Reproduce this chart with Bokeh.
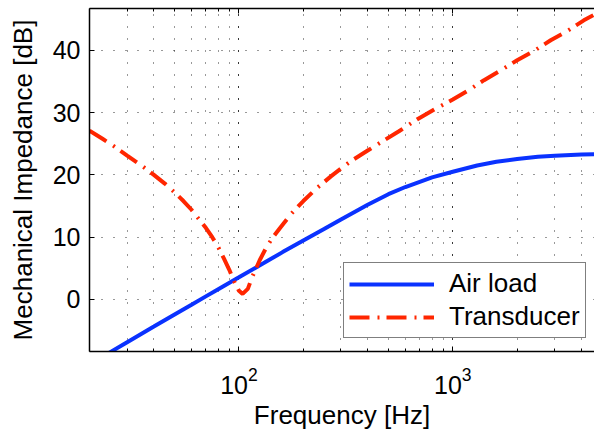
from bokeh.plotting import figure
from bokeh.models import (LogAxis, LogTicker, FixedTicker, Legend, LegendItem,
                          Range1d, ColumnDataSource, Title)
from bokeh.embed import file_html
from bokeh.resources import INLINE

# ---- data ----
freq_air = [20, 25, 30, 40, 50, 60, 70, 80, 100, 130, 160, 200, 250, 300, 400,
            500, 600, 800, 1000, 1300, 1600, 2000, 2500, 3000, 4000, 5000]
air_load = [-10.4, -8.45, -6.85, -4.35, -2.4, -0.85, 0.5, 1.65, 3.55, 5.8, 7.6,
            9.45, 11.3, 12.85, 15.2, 16.9, 18.05, 19.6, 20.5, 21.5, 22.1, 22.55,
            22.9, 23.05, 23.25, 23.35]

freq_tr = [20, 23, 26, 30, 35, 40, 45, 50, 55, 60, 65, 70, 75, 80, 85, 90, 95,
           100, 104, 110, 116, 125, 135, 145, 155, 175, 200, 230, 270, 330, 400,
           460, 560, 680, 820, 1000, 1200, 1400, 1700, 2000, 2400, 2870, 3400,
           4100, 5000]
transducer = [27.1, 25.8, 24.6, 23.1, 21.5, 20.0, 18.6, 17.2, 15.8, 14.4, 12.9,
              11.5, 10.0, 8.4, 6.6, 4.8, 2.9, 1.4, 0.9, 1.7, 3.8, 6.3, 8.5, 10.1,
              11.4, 13.7, 15.8, 17.8, 19.8, 22.1, 23.9, 25.2, 27.0, 28.9, 30.5,
              32.1, 33.7, 35.2, 36.9, 38.4, 39.9, 41.6, 43.0, 44.8, 46.4]

y_ticks = [0, 10, 20, 30, 40]
x_label = "Frequency [Hz]"
y_label = "Mechanical Impedance [dB]"
series_names = ["Air load", "Transducer"]

FONT = "Liberation Sans"
BLUE = "#0a32ff"
RED = "#ff2600"

p = figure(width=594, height=431, x_axis_type="log",
           x_range=Range1d(20, 4600), y_range=Range1d(-8.35, 46.7),
           output_backend="svg", toolbar_location=None,
           min_border_left=89, min_border_right=0, min_border_top=8,
           min_border_bottom=80)
p.outline_line_color = None
p.background_fill_color = "white"
p.border_fill_color = "white"

# bottom x axis
xa = p.xaxis[0]
xa.ticker = LogTicker(num_minor_ticks=10)
xa.major_label_text_font = FONT
xa.major_label_text_font_size = "25px"
xa.major_label_text_color = "black"
xa.major_label_standoff = 15
xa.major_tick_in = 5
xa.major_tick_out = 0
xa.minor_tick_in = 3
xa.minor_tick_out = 0
xa.axis_line_width = 1.5
xa.axis_line_color = "black"
xa.major_tick_line_color = "black"
xa.minor_tick_line_color = "black"

# x axis title as a title panel under the axis
xt = Title(text=x_label, align="center", text_font=FONT, text_font_size="26px",
           text_font_style="normal", text_color="black", standoff=2, offset=0)
p.add_layout(xt, "below")

# top axis (box edge), labels invisible
top = LogAxis(ticker=LogTicker(num_minor_ticks=10),
              major_label_text_font_size="1px", major_label_text_alpha=0,
              major_label_standoff=0,
              major_tick_in=5, major_tick_out=0, minor_tick_in=3, minor_tick_out=0,
              axis_line_width=1.5, axis_line_color="black")
p.add_layout(top, "above")

# y axis
ya = p.yaxis[0]
ya.ticker = FixedTicker(ticks=y_ticks, minor_ticks=[])
ya.axis_label = y_label
ya.axis_label_text_font = FONT
ya.axis_label_text_font_size = "26px"
ya.axis_label_text_font_style = "normal"
ya.axis_label_text_color = "black"
ya.axis_label_standoff = 12
ya.major_label_text_font = FONT
ya.major_label_text_font_size = "25px"
ya.major_label_text_color = "black"
ya.major_label_standoff = 9
ya.major_tick_in = 5
ya.major_tick_out = 0
ya.minor_tick_in = 0
ya.minor_tick_out = 0
ya.axis_line_width = 1.5
ya.axis_line_color = "black"

# dotted grid
for g in (p.xgrid[0], p.ygrid[0]):
    g.grid_line_color = "black"
    g.grid_line_alpha = 0.8
    g.grid_line_dash = "1 11"
    g.grid_line_width = 1
p.xgrid[0].minor_grid_line_color = "black"
p.xgrid[0].minor_grid_line_alpha = 0.8
p.xgrid[0].minor_grid_line_dash = "1 11"

src_air = ColumnDataSource(dict(f=freq_air, z=air_load))
src_tr = ColumnDataSource(dict(f=freq_tr, z=transducer))

r_air = p.line("f", "z", source=src_air, line_color=BLUE, line_width=4)
r_tr = p.line("f", "z", source=src_tr, line_color=RED, line_width=4,
              line_dash="20 8 2 7")

legend = Legend(items=[LegendItem(label=series_names[0], renderers=[r_air]),
                       LegendItem(label=series_names[1], renderers=[r_tr])],
                location=(254, 13), orientation="vertical",
                label_text_font=FONT, label_text_font_size="26px",
                label_text_color="black", label_standoff=15,
                glyph_width=85, glyph_height=28, label_height=28,
                padding=5, spacing=2, margin=0,
                border_line_color="black", border_line_width=1,
                background_fill_color="white", background_fill_alpha=1)
p.add_layout(legend, "center")

open("out.html", "w").write(file_html(p, INLINE))
